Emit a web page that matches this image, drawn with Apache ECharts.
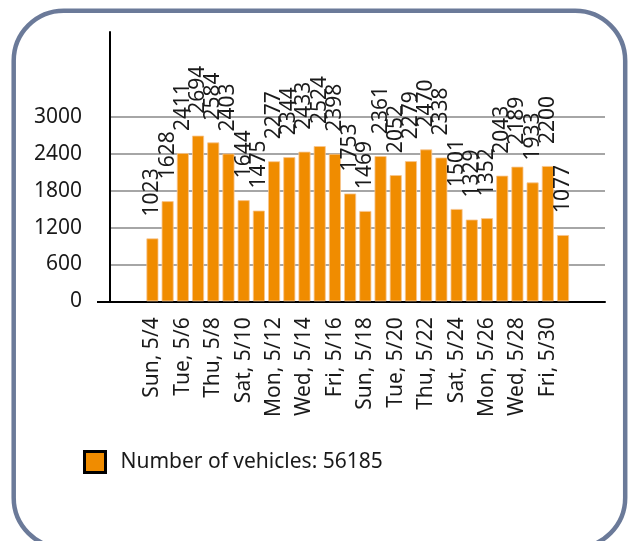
<!DOCTYPE html>
<html>
<head>
<meta charset="utf-8">
<script src="https://cdn.jsdelivr.net/npm/echarts@6/dist/echarts.min.js"></script>
<style>
html,body{margin:0;padding:0;background:#fff;}
#chart{width:628px;height:541px;}
</style>
</head>
<body>
<div id="chart"></div>
<script>
const categories = ["Sun, 5/4","Mon, 5/5","Tue, 5/6","Wed, 5/7","Thu, 5/8","Fri, 5/9","Sat, 5/10",
  "Sun, 5/11","Mon, 5/12","Tue, 5/13","Wed, 5/14","Thu, 5/15","Fri, 5/16","Sat, 5/17",
  "Sun, 5/18","Mon, 5/19","Tue, 5/20","Wed, 5/21","Thu, 5/22","Fri, 5/23","Sat, 5/24",
  "Sun, 5/25","Mon, 5/26","Tue, 5/27","Wed, 5/28","Thu, 5/29","Fri, 5/30","Sat, 5/31"];
const vehicles = [1023,1628,2411,2694,2584,2403,1644,1475,2277,2344,2433,2524,2398,1753,
  1469,2361,2052,2279,2470,2338,1501,1329,1352,2043,2189,1933,2200,1077];
const yTicks = [0,600,1200,1800,2400,3000];
const seriesName = "Number of vehicles: 56185";

const FONT = "Noto Sans";
const TXT = "#1a1a1a";
const FS = 21;
const chart = echarts.init(document.getElementById('chart'), null, {renderer:'canvas'});
const labelIdx = categories.map((c,i)=>i).filter(i=>i%2===0);

chart.setOption({
  backgroundColor:'#fff',
  animation:false,
  textStyle:{fontFamily:FONT},
  graphic:[{
    type:'rect', shape:{x:13.7,y:10.8,width:611.5,height:537,r:50},
    style:{fill:'none',stroke:'#6b7a99',lineWidth:4.5}, z:-10
  }],
  legend:{
    left:83, top:450, padding:0, icon:'rect', itemWidth:21, itemHeight:21,
    itemStyle:{borderColor:'#000',borderWidth:3},
    textStyle:{fontSize:FS,color:TXT,fontFamily:FONT,padding:[0,0,0,10]},
    data:[seriesName]
  },
  grid:[
    {left:110,right:23,top:32,bottom:239.7},
    {left:110,right:23,top:116.85,bottom:239.7}
  ],
  xAxis:[{
    type:'value', gridIndex:0, min:-2.79, max:29.76,
    axisLine:{show:true,onZero:false,lineStyle:{color:'#000',width:2}},
    axisTick:{show:false},
    splitLine:{show:false},
    axisLabel:{customValues:labelIdx, rotate:90, margin:16, fontSize:FS, color:TXT, fontFamily:FONT,
      formatter:v=>categories[Math.round(v)]||''}
  },{
    type:'value', gridIndex:1, min:-2.79, max:29.76, show:false
  }],
  yAxis:[{
    type:'value', gridIndex:0, min:0, max:4380,
    axisLine:{show:true,onZero:false,lineStyle:{color:'#000',width:2}},
    axisTick:{show:true,customValues:[0],length:13,lineStyle:{color:'#000',width:2}},
    splitLine:{show:false},
    axisLabel:{customValues:yTicks, margin:28, fontSize:FS, color:TXT, fontFamily:FONT,
      formatter:v=>String(v)}
  },{
    type:'value', gridIndex:1, min:0, max:3000, interval:600,
    axisLine:{show:false}, axisTick:{show:false}, axisLabel:{show:false},
    splitLine:{show:true,lineStyle:{color:'#a6a6a6',width:2}}
  }],
  series:[{
    name:seriesName, type:'bar', xAxisIndex:0, yAxisIndex:0,
    barWidth:12,
    itemStyle:{color:'#F08C00',borderColor:'#f7c58f',borderWidth:0.8},
    data:vehicles.map((v,i)=>[i,v]),
    label:{show:true,position:'top',distance:22,rotate:90,align:'left',verticalAlign:'middle',
      fontSize:FS,color:TXT,fontFamily:FONT,formatter:p=>String(p.value[1])}
  }]
});
</script>
</body>
</html>
